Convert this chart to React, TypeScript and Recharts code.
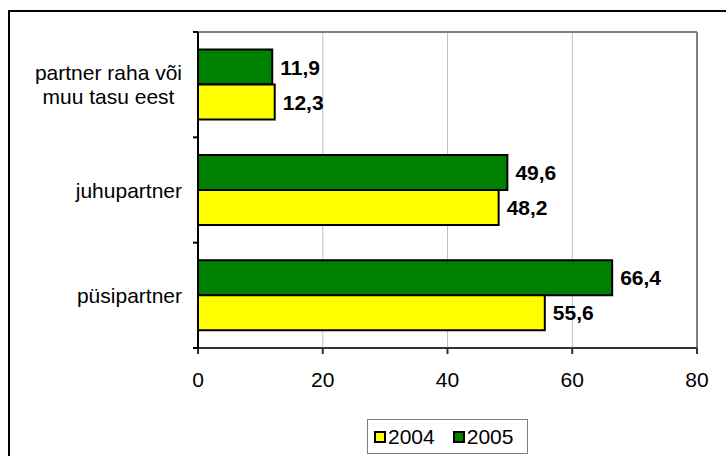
import React from "react";
import {
  BarChart,
  Bar,
  XAxis,
  YAxis,
  CartesianGrid,
  LabelList,
  ReferenceLine,
  Legend,
} from "recharts";

// Categories (top to bottom); "\n" marks the label line break
const categories = ["partner raha või\nmuu tasu eest", "juhupartner", "püsipartner"];
const values2004 = [12.3, 48.2, 55.6];
const values2005 = [11.9, 49.6, 66.4];
const xTicks = [0, 20, 40, 60, 80];

const series = [
  { key: "v2004", name: "2004", color: "#FFFF00" },
  { key: "v2005", name: "2005", color: "#008000" },
];

const data = categories.map((category, i) => ({
  category,
  v2004: values2004[i],
  v2005: values2005[i],
}));

const FONT = '"Liberation Sans", Arial, Helvetica, sans-serif';
const FONT_SIZE = 21;

const Y_TICK_SIZE = 5;
const Y_TICK_MARGIN = 11;

let measureCtx: CanvasRenderingContext2D | null = null;
function textWidth(s: string): number {
  if (!measureCtx) measureCtx = document.createElement("canvas").getContext("2d");
  if (!measureCtx) return s.length * FONT_SIZE * 0.5;
  measureCtx.font = `${FONT_SIZE}px ${FONT}`;
  return measureCtx.measureText(s).width;
}

const formatValue = (v: any) => Number(v).toFixed(1).replace(".", ",");

// Category label, right-aligned block with centred lines; tick marks sit on the band edges
function CategoryTick(props: any) {
  const { x, y, payload, index } = props;
  const axisX = x + Y_TICK_MARGIN + Y_TICK_SIZE;
  const half = payload && payload.offset ? payload.offset : 52.7;
  const lines = String(payload.value).split("\n");
  const maxW = Math.max(...lines.map(textWidth));
  const cx = x - maxW / 2;
  const lineH = 24;
  const top = y - ((lines.length - 1) * lineH) / 2;
  const isLast = index === categories.length - 1;
  return (
    <g>
      <line x1={axisX - Y_TICK_SIZE} x2={axisX} y1={y - half} y2={y - half} stroke="#000" strokeWidth={2} />
      {isLast && (
        <line x1={axisX - Y_TICK_SIZE} x2={axisX} y1={y + half} y2={y + half} stroke="#000" strokeWidth={2} />
      )}
      {lines.map((l, i) => (
        <text
          key={i}
          x={cx}
          y={top + i * lineH}
          textAnchor="middle"
          dominantBaseline="central"
          fontSize={FONT_SIZE}
          fontFamily={FONT}
          fill="#000"
        >
          {l}
        </text>
      ))}
    </g>
  );
}

function LegendBox() {
  return (
    <div
      style={{
        width: 161,
        height: 35,
        border: "1px solid #808080",
        boxSizing: "border-box",
        background: "#fff",
        display: "flex",
        alignItems: "center",
        paddingLeft: 6,
        fontFamily: FONT,
        fontSize: FONT_SIZE,
        color: "#000",
        lineHeight: 1,
      }}
    >
      {series.map((s, i) => (
        <span
          key={s.key}
          style={{ display: "flex", alignItems: "center", marginLeft: i === 0 ? 0 : 18 }}
        >
          <span
            style={{
              width: 12,
              height: 12,
              background: s.color,
              border: "2px solid #000",
              boxSizing: "border-box",
              display: "inline-block",
            }}
          />
          <span style={{ marginLeft: 2 }}>{s.name}</span>
        </span>
      ))}
    </div>
  );
}

export default function App() {
  return (
    <div
      style={{
        position: "fixed",
        left: 0,
        top: 0,
        width: 726,
        height: 456,
        overflow: "hidden",
        background: "#fff",
      }}
    >
      <div
        style={{
          position: "absolute",
          left: 8,
          top: 10,
          width: 2000,
          height: 2000,
          borderLeft: "2px solid #000",
          borderTop: "2px solid #000",
        }}
      />
      <div style={{ position: "absolute", left: 0, top: 0 }}>
        <BarChart
          width={726}
          height={456}
          data={data}
          layout="vertical"
          margin={{ top: 32, right: 29, bottom: 78, left: 8 }}
          barCategoryGap="16.7%"
          barGap={0}
        >
          <CartesianGrid horizontal={false} stroke="#c0c0c0" strokeWidth={1} />
          <ReferenceLine x={80} stroke="#808080" strokeWidth={2} />
          <ReferenceLine y={categories[0]} position="start" stroke="#808080" strokeWidth={2} />
          <XAxis
            type="number"
            domain={[0, 80]}
            ticks={xTicks}
            interval={0}
            height={30}
            tickSize={6}
            tickMargin={18}
            axisLine={{ stroke: "#333", strokeWidth: 2 }}
            tickLine={{ stroke: "#333", strokeWidth: 2 }}
            tick={{ fontSize: FONT_SIZE, fontFamily: FONT, fill: "#000" }}
          />
          <YAxis
            type="category"
            dataKey="category"
            width={190}
            interval={0}
            tickSize={Y_TICK_SIZE}
            tickMargin={Y_TICK_MARGIN}
            tickLine={false}
            axisLine={{ stroke: "#000", strokeWidth: 2 }}
            tick={<CategoryTick />}
          />
          <Bar dataKey="v2005" name="2005" fill="#008000" stroke="#000" strokeWidth={2} isAnimationActive={false}>
            <LabelList
              dataKey="v2005"
              position="right"
              offset={8}
              formatter={formatValue}
              style={{ fontSize: FONT_SIZE, fontFamily: FONT, fontWeight: 700, fill: "#000" }}
            />
          </Bar>
          <Bar dataKey="v2004" name="2004" fill="#FFFF00" stroke="#000" strokeWidth={2} isAnimationActive={false}>
            <LabelList
              dataKey="v2004"
              position="right"
              offset={8}
              formatter={formatValue}
              style={{ fontSize: FONT_SIZE, fontFamily: FONT, fontWeight: 700, fill: "#000" }}
            />
          </Bar>
          <Legend
            verticalAlign="middle"
            align="center"
            content={<LegendBox />}
            wrapperStyle={{ position: "absolute", left: 367, top: 419, width: 161, height: 35 }}
          />
        </BarChart>
      </div>
    </div>
  );
}
